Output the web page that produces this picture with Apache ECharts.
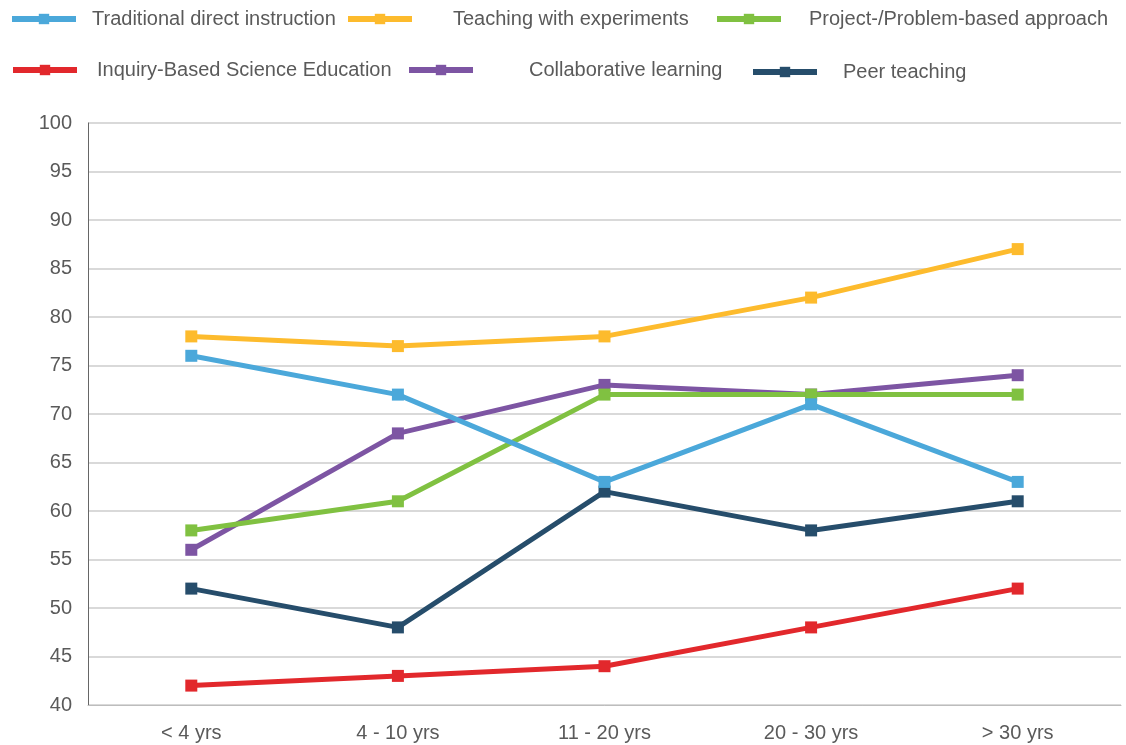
<!DOCTYPE html>
<html><head><meta charset="utf-8">
<script src="https://cdn.jsdelivr.net/npm/echarts@6/dist/echarts.min.js"></script>
<style>html,body{margin:0;padding:0;background:#fff}#c{width:1126px;height:745px}</style>
</head><body><div id="c"></div>
<script>
const categories = ['< 4 yrs', '4 - 10 yrs', '11 - 20 yrs', '20 - 30 yrs', '> 30 yrs'];
const yTicks = [40, 45, 50, 55, 60, 65, 70, 75, 80, 85, 90, 95, 100];
const traditional = [76, 72, 63, 71, 63];
const experiments = [78, 77, 78, 82, 87];
const project = [58, 61, 72, 72, 72];
const ibse = [42, 43, 44, 48, 52];
const collaborative = [56, 68, 73, 72, 74];
const peer = [52, 48, 62, 58, 61];

const names = {
  traditional: 'Traditional direct instruction',
  experiments: 'Teaching with experiments',
  project: 'Project-/Problem-based approach',
  ibse: 'Inquiry-Based Science Education',
  collaborative: 'Collaborative learning',
  peer: 'Peer teaching'
};
const colors = {
  traditional: '#4BA8DA', experiments: '#FDBB2D', project: '#80C141',
  ibse: '#E2282C', collaborative: '#7D55A3', peer: '#264D6B'
};
const font = '"Liberation Sans", Arial, Helvetica, sans-serif';
function mkSeries(key, data) {
  return {
    name: names[key], type: 'line', data: data,
    symbol: 'rect', symbolSize: 12, showSymbol: true,
    lineStyle: { width: 5, color: colors[key] },
    itemStyle: { color: colors[key] },
    emphasis: { disabled: true }, animation: false
  };
}
function mkLegend(key, left, top, pad) {
  return {
    data: [names[key]], left: left, top: top, padding: 0,
    itemWidth: 64, itemHeight: 13,
    lineStyle: { width: 6 },
    textStyle: { fontFamily: font, fontSize: 20, color: '#5a5a5a', padding: [0, 0, 0, pad] },
    selectedMode: false
  };
}
const chart = echarts.init(document.getElementById('c'));
chart.setOption({
  animation: false,
  legend: [
    mkLegend('traditional', 9, 9, 11),
    mkLegend('experiments', 345, 9, 36),
    mkLegend('project', 714, 9, 23),
    mkLegend('ibse', 10, 60, 15),
    mkLegend('collaborative', 406, 60, 51),
    mkLegend('peer', 750, 62, 21)
  ],
  grid: { left: 88, right: 5, top: 123, bottom: 40, containLabel: false },
  xAxis: {
    type: 'category', data: categories, boundaryGap: true,
    axisLine: { lineStyle: { color: '#bdbdbd', width: 1 } },
    axisTick: { show: false },
    axisLabel: { fontFamily: font, fontSize: 20, color: '#5a5a5a', margin: 18 }
  },
  yAxis: {
    type: 'value', min: yTicks[0], max: yTicks[yTicks.length - 1], interval: 5,
    axisLine: { show: true, lineStyle: { color: '#666', width: 1 } },
    axisTick: { show: false },
    splitLine: { lineStyle: { color: '#cccccc', width: 1.5 } },
    axisLabel: { fontFamily: font, fontSize: 20, color: '#5a5a5a', margin: 16 }
  },
  series: [
    mkSeries('peer', peer),
    mkSeries('ibse', ibse),
    mkSeries('collaborative', collaborative),
    mkSeries('project', project),
    mkSeries('experiments', experiments),
    mkSeries('traditional', traditional)
  ]
});
</script></body></html>
